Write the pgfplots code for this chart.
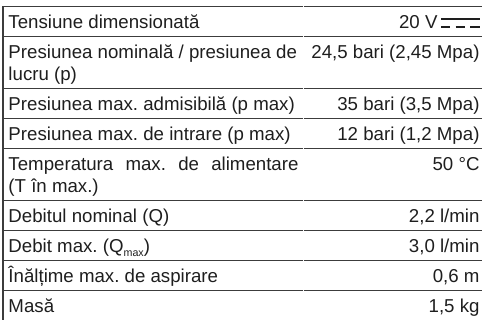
\documentclass[border=0pt]{standalone}
\usepackage{pgfplots}
\pgfplotsset{compat=1.18}
\usepackage{fontspec}
\setmainfont{Liberation Sans}
\frenchspacing
\definecolor{txt}{HTML}{1E1E1E}
\definecolor{rule}{HTML}{3C3C3C}
\newcommand{\tf}{\fontsize{14}{16.5}\selectfont\color{txt}\frenchspacing}
\begin{document}
\begin{tikzpicture}
\begin{axis}[
  scale only axis, width=361.5pt, height=240pt,
  xmin=0, xmax=482, ymin=0, ymax=320, y dir=reverse,
  axis lines=none, clip=false,
  nodes={inner sep=0pt, outer sep=0pt},
]
\coordinate (BBa) at (axis cs:0,0);
\coordinate (BBb) at (axis cs:482,320);
% left border
\addplot[draw=rule, line width=1.1pt, mark=none] coordinates {(3.2,6.2) (3.2,320)};
% horizontal rules (left cell / right cell)
\pgfplotsinvokeforeach{6.7,36.7,88.7,118.7,148.7,200.7,230.7,260.7,290.7}{
  \addplot[draw=rule, line width=0.8pt, mark=none] coordinates {(2.7,#1) (302.6,#1)};
  \addplot[draw=rule, line width=0.8pt, mark=none] coordinates {(303.6,#1) (482,#1)};
}
% DC symbol
\addplot[draw=txt, line width=1.6pt, mark=none] coordinates {(441,19.4) (480,19.4)};
\addplot[draw=txt, line width=1.6pt, mark=none] coordinates {(441,27.4) (450,27.4)};
\addplot[draw=txt, line width=1.6pt, mark=none] coordinates {(455.5,27.4) (464.5,27.4)};
\addplot[draw=txt, line width=1.6pt, mark=none] coordinates {(470,27.4) (480,27.4)};
% left column
\node[anchor=base west] at (axis cs:8.5,28.5) {\tf Tensiune dimensionată};
\node[anchor=base west] at (axis cs:8.5,58.5) {\tf Presiunea nominală / presiunea de};
\node[anchor=base west] at (axis cs:8.5,80.5) {\tf lucru (p)};
\node[anchor=base west] at (axis cs:8.5,110.5) {\tf Presiunea max. admisibilă (p max)};
\node[anchor=base west] at (axis cs:8.5,140.5) {\tf Presiunea max. de intrare (p max)};
\node[anchor=base west] at (axis cs:8.5,170.5) {\tf \hbox to 217.5pt{Temperatura\hfil\ max.\hfil\ de\hfil\ alimentare}};
\node[anchor=base west] at (axis cs:8.5,192.5) {\tf (T în max.)};
\node[anchor=base west] at (axis cs:8.5,222.5) {\tf Debitul nominal (Q)};
\node[anchor=base west] at (axis cs:8.5,252.5) {\tf Debit max. (Q\raisebox{-0.45ex}{\fontsize{8}{8}\selectfont max})};
\node[anchor=base west] at (axis cs:8.5,282.5) {\tf Înălțime max. de aspirare};
\node[anchor=base west] at (axis cs:8.5,312.5) {\tf Masă};
% right column
\node[anchor=base east] at (axis cs:437.5,28.5) {\tf 20 V};
\node[anchor=base east] at (axis cs:479.5,58.5) {\tf 24,5 bari (2,45 Mpa)};
\node[anchor=base east] at (axis cs:479.5,110.5) {\tf 35 bari (3,5 Mpa)};
\node[anchor=base east] at (axis cs:479.5,140.5) {\tf 12 bari (1,2 Mpa)};
\node[anchor=base east] at (axis cs:479.5,170.5) {\tf 50 °C};
\node[anchor=base east] at (axis cs:479.5,222.5) {\tf 2,2 l/min};
\node[anchor=base east] at (axis cs:479.5,252.5) {\tf 3,0 l/min};
\node[anchor=base east] at (axis cs:479.5,282.5) {\tf 0,6 m};
\node[anchor=base east] at (axis cs:479.5,312.5) {\tf 1,5 kg};
\end{axis}
\pgfresetboundingbox
\useasboundingbox (BBa) rectangle (BBb);
\end{tikzpicture}
\end{document}
